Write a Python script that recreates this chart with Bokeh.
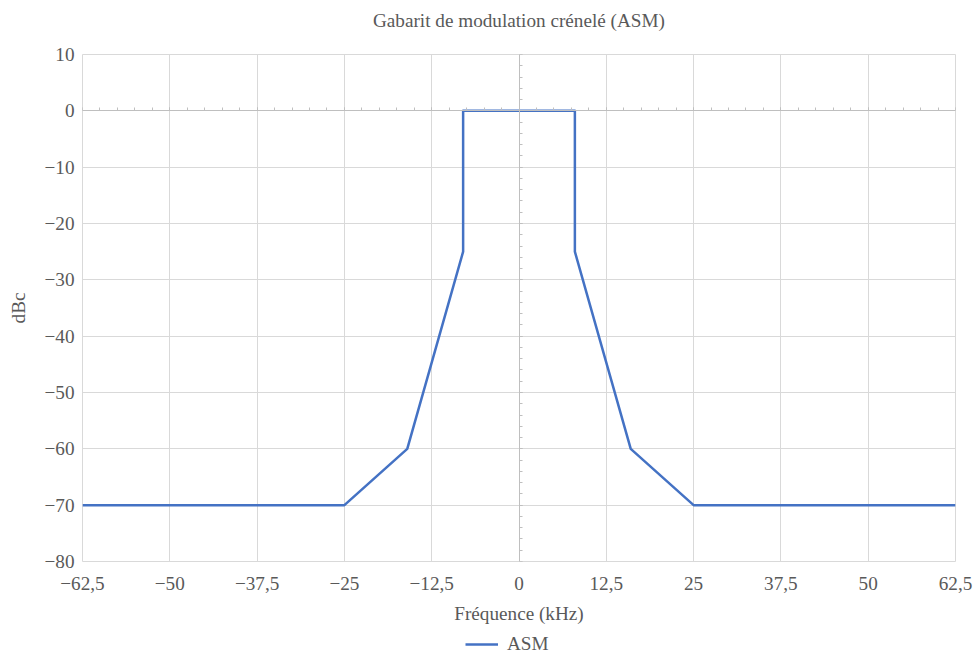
from bokeh.plotting import figure
from bokeh.layouts import column
from bokeh.models import (LinearAxis, SingleIntervalTicker, FixedTicker, Legend, LegendItem, Range1d)
from bokeh.embed import file_html
from bokeh.resources import INLINE

# ---- data ----
freq_khz = [-62.5, -25, -16, -8, -8, 8, 8, 16, 25, 62.5]
level_dbc = [-70, -70, -60, -25, 0, 0, -25, -60, -70, -70]
series_name = "ASM"

x_ticks = [-62.5, -50, -37.5, -25, -12.5, 0, 12.5, 25, 37.5, 50, 62.5]
x_tick_labels = ["−62,5", "−50", "−37,5", "−25", "−12,5", "0", "12,5", "25", "37,5", "50", "62,5"]
y_ticks = [10, 0, -10, -20, -30, -40, -50, -60, -70, -80]
y_tick_labels = ["10", "0", "−10", "−20", "−30", "−40", "−50", "−60", "−70", "−80"]

title_text = "Gabarit de modulation crénelé (ASM)"
x_label = "Fréquence (kHz)"
y_label = "dBc"

# ---- style ----
FONT = "'Liberation Serif', 'Times New Roman', serif"
FS = "19.2px"
TEXT = "#595959"
GRID = "#D9D9D9"
AXIS = "#BFBFBF"
BLUE = "#4472C4"

p = figure(width=973, height=632, frame_width=873, frame_height=507,
           x_range=(-62.5, 62.5), y_range=(-80, 10),
           output_backend="svg", toolbar_location=None,
           min_border_left=82, min_border_right=18, min_border_top=54, min_border_bottom=71)
p.outline_line_color = GRID
p.background_fill_color = "white"
p.border_fill_color = "white"
p.title.text = ""

# grids at the major ticks only
p.xgrid.ticker = FixedTicker(ticks=x_ticks)
p.ygrid.ticker = FixedTicker(ticks=y_ticks)
p.xgrid.grid_line_color = GRID
p.ygrid.grid_line_color = GRID

# label axes (default ones)
xaxis = p.xaxis[0]
xaxis.ticker = FixedTicker(ticks=x_ticks)
xaxis.major_label_overrides = dict(zip(x_ticks, x_tick_labels))
yaxis = p.yaxis[0]
yaxis.ticker = FixedTicker(ticks=y_ticks)
yaxis.major_label_overrides = dict(zip(y_ticks, y_tick_labels))

# top axis carrying the chart title (no line, ticks or visible tick labels)
top_axis = LinearAxis(ticker=FixedTicker(ticks=x_ticks), axis_label=title_text,
                      major_label_text_alpha=0, major_label_text_font_size="1px")
p.add_layout(top_axis, "above")

for ax in (xaxis, yaxis, top_axis):
    ax.axis_line_color = None
    ax.major_tick_line_color = None
    ax.minor_tick_line_color = None
    ax.major_tick_out = 0
    ax.major_tick_in = 0
    ax.minor_tick_out = 0
    ax.minor_tick_in = 0
    ax.major_label_text_font = FONT
    ax.major_label_text_color = TEXT
    ax.axis_label_text_font = FONT
    ax.axis_label_text_font_size = FS
    ax.axis_label_text_font_style = "normal"
    ax.axis_label_text_color = TEXT
for ax in (xaxis, yaxis):
    ax.major_label_text_font_size = FS
xaxis.axis_label = x_label
xaxis.major_label_standoff = 15
xaxis.axis_label_standoff = 10
yaxis.axis_label = y_label
yaxis.major_label_standoff = 8
yaxis.axis_label_standoff = 12
top_axis.major_label_standoff = 0
top_axis.axis_label_standoff = 24

# axes crossing at zero (line + small tick marks)
x0 = LinearAxis(fixed_location=0, ticker=SingleIntervalTicker(interval=12.5, num_minor_ticks=5),
                axis_line_color=AXIS, major_tick_line_color=AXIS, minor_tick_line_color=AXIS,
                major_tick_in=3, major_tick_out=0, minor_tick_in=3, minor_tick_out=0,
                major_label_text_alpha=0, major_label_text_font_size="1px", major_label_standoff=0)
p.add_layout(x0, "below")
y0 = LinearAxis(fixed_location=0, ticker=SingleIntervalTicker(interval=10, num_minor_ticks=5),
                axis_line_color=AXIS, major_tick_line_color=AXIS, minor_tick_line_color=AXIS,
                major_tick_in=3, major_tick_out=0, minor_tick_in=3, minor_tick_out=0,
                major_label_text_alpha=0, major_label_text_font_size="1px", major_label_standoff=0)
p.add_layout(y0, "left")

p.line(freq_khz, level_dbc, line_color=BLUE, line_width=2.5, line_join="round")

# ---- legend strip under the chart ----
lf = figure(width=973, height=24, x_range=(-62.5, 62.5), y_range=Range1d(100, 110),
            output_backend="svg", toolbar_location=None,
            x_axis_location=None, y_axis_location=None, min_border=0)
lf.outline_line_color = None
lf.grid.visible = False
lf.title.text = ""
lf.background_fill_color = "white"
lf.border_fill_color = "white"
lr = lf.line(freq_khz, level_dbc, line_color=BLUE, line_width=2.5)

legend = Legend(items=[LegendItem(label=series_name, renderers=[lr])],
                location=(383, 1), orientation="horizontal",
                border_line_color=None, background_fill_alpha=0,
                glyph_width=33, glyph_height=18, label_standoff=9,
                padding=0, margin=0,
                label_text_font=FONT, label_text_font_size=FS, label_text_color=TEXT)
lf.add_layout(legend, "center")

open("out.html", "w").write(file_html(column(p, lf, spacing=0), INLINE))
